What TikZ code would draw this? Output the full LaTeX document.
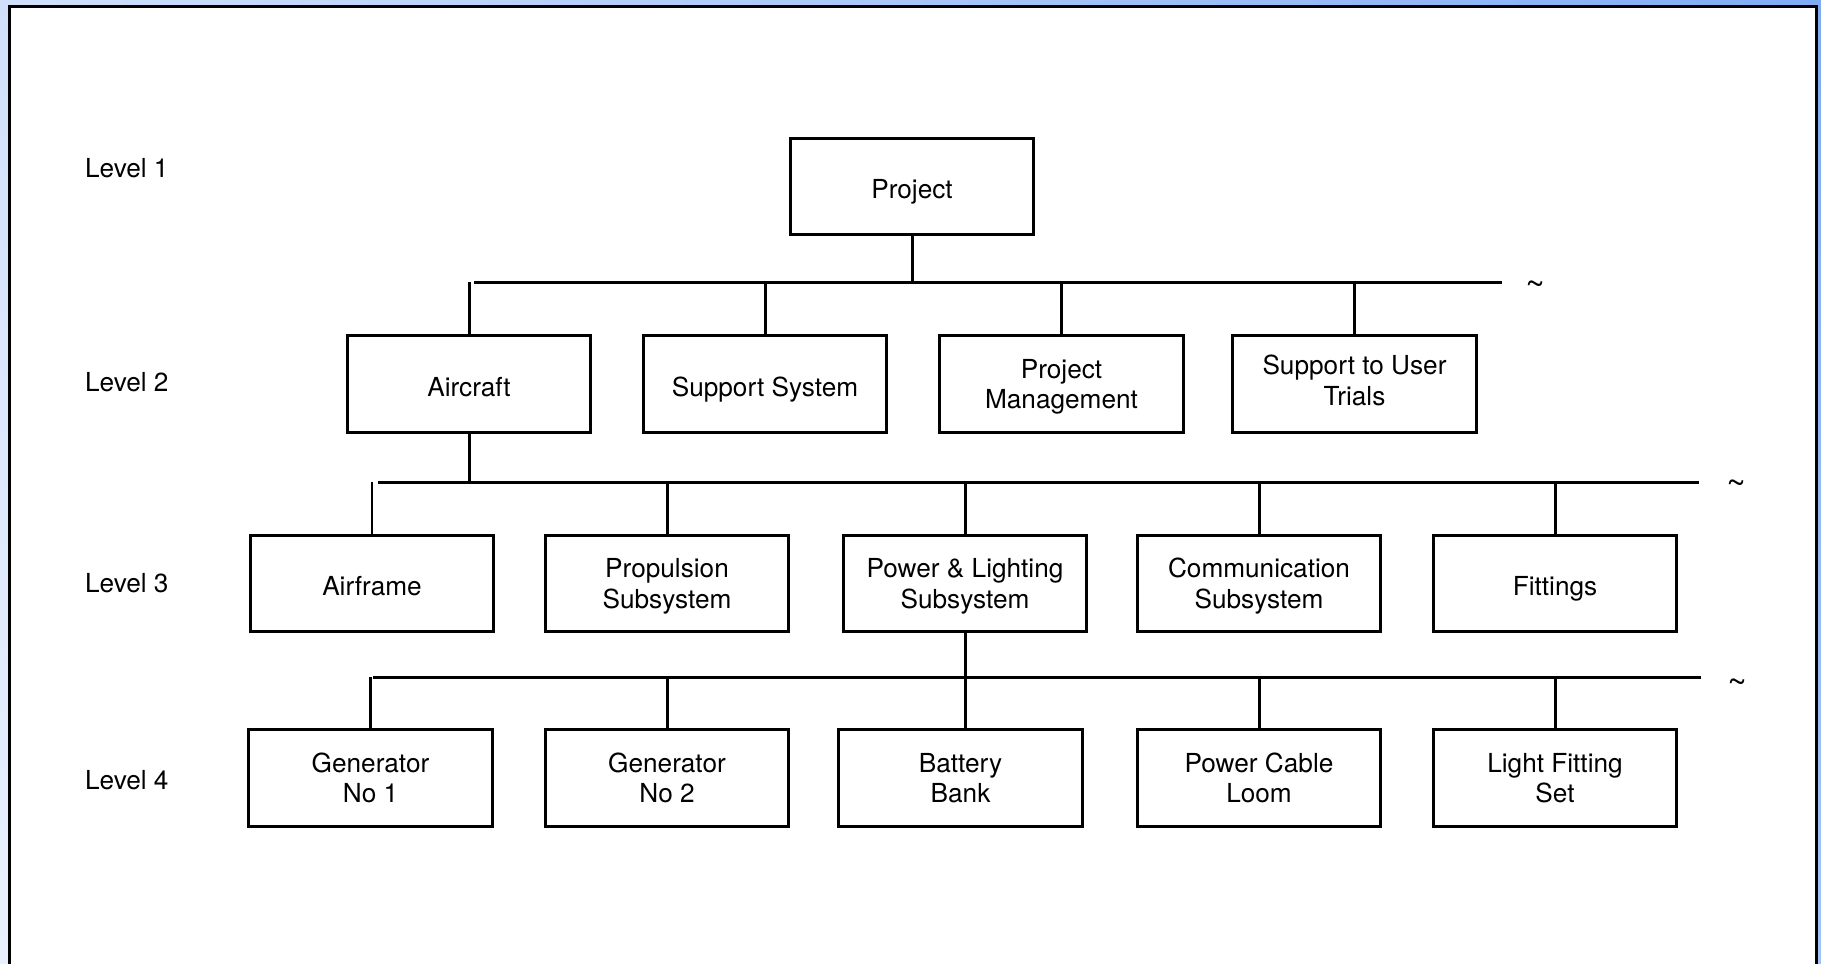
\documentclass[tikz,border=0pt]{standalone}
\usepackage{fontspec}
\setmainfont{TeX Gyre Heros}
\usetikzlibrary{shadings}
\definecolor{bgUL}{RGB}{208,224,251}
\definecolor{bgUR}{RGB}{128,172,245}
\definecolor{bgLL}{RGB}{234,241,253}
\definecolor{bgLR}{RGB}{164,196,246}
\begin{document}
\begin{tikzpicture}[x=0.01cm,y=-0.01cm,
  every node/.style={font=\fontsize{7.45}{8.8}\selectfont, inner sep=0pt, outer sep=0pt},
  box/.style={draw, line width=0.85pt, minimum width=2.43cm, minimum height=0.96cm, align=center},
  one/.style={box, text height=7.1pt, text depth=0pt},
  two/.style={box, text height=14.2pt, text depth=0pt},
  link/.style={line width=0.85pt},
  lvl/.style={anchor=west},
  cut/.style={anchor=center, font=\fontsize{9.5}{10}\selectfont}]
  \useasboundingbox (0,0) rectangle (1821,963);
  % page background and frame
  \shade[upper left=bgUL, upper right=bgUR, lower left=bgLL, lower right=bgLR]
    (0,0) rectangle (1821,963);
  \fill[white] (9.5,6) rectangle (1816.5,975);
  \draw[line width=0.85pt] (9.5,975) -- (9.5,6) -- (1816.5,6) -- (1816.5,975);

  % level labels
  \node[lvl] (l1) at (85,168) {Level 1};
  \node[lvl] (l2) at (85,382) {Level 2};
  \node[lvl] (l3) at (85,583) {Level 3};
  \node[lvl] (l4) at (85,780) {Level 4};

  % level 1
  \node[one] (project) at (912,186.5) {Project};

  % level 2
  \node[one] (aircraft) at (469,384) {Aircraft};
  \node[one] (support) at (765,384) {Support System};
  \node[two] (pm) at (1061.5,384) {Project\\Management};
  \node[two, text depth=2pt] (trials) at (1354.5,384) {Support to User\\Trials};

  % level 3
  \node[one] (airframe) at (372,583.5) {Airframe};
  \node[two] (propulsion) at (667,583.5) {Propulsion\\Subsystem};
  \node[two] (power) at (965,583.5) {Power \& Lighting\\Subsystem};
  \node[two] (comm) at (1259,583.5) {Communication\\Subsystem};
  \node[one] (fittings) at (1555,583.5) {Fittings};

  % level 4
  \node[two] (gen1) at (370.5,778) {Generator\\No 1};
  \node[two] (gen2) at (667,778) {Generator\\No 2};
  \node[two] (battery) at (960.5,778) {Battery\\Bank};
  \node[two] (loom) at (1259,778) {Power Cable\\Loom};
  \node[two] (light) at (1555,778) {Light Fitting\\Set};

  % bus lines
  \coordinate (b1L) at (474,282);
  \coordinate (b1R) at (1502,282);
  \coordinate (b2L) at (378,482);
  \coordinate (b2R) at (1699,482);
  \coordinate (b3L) at (373,677);
  \coordinate (b3R) at (1701,677);
  \draw[link] (b1L) -- (b1R);
  \draw[link] (b2L) -- (b2R);
  \draw[link] (b3L) -- (b3R);

  % continuation marks
  \node[cut] (t1) at (1535,288) {\textasciitilde};
  \node[cut] (t2) at (1736,487) {\textasciitilde};
  \node[cut] (t3) at (1737,686) {\textasciitilde};

  % level 1 to level 2
  \draw[link] (project.south) -- (project.south |- b1L);
  \draw[link] (aircraft.north) -- (aircraft.north |- b1L);
  \draw[link] (support.north) -- (support.north |- b1L);
  \draw[link] (pm.north) -- (pm.north |- b1L);
  \draw[link] (trials.north) -- (trials.north |- b1L);

  % level 2 to level 3
  \draw[link] (aircraft.south) -- (aircraft.south |- b2L);
  \draw[link] (airframe.north) -- (airframe.north |- b2L);
  \draw[link] (propulsion.north) -- (propulsion.north |- b2L);
  \draw[link] (power.north) -- (power.north |- b2L);
  \draw[link] (comm.north) -- (comm.north |- b2L);
  \draw[link] (fittings.north) -- (fittings.north |- b2L);

  % level 3 to level 4
  \draw[link] (power.south) -- (power.south |- battery.north);
  \draw[link] (gen1.north) -- (gen1.north |- b3L);
  \draw[link] (gen2.north) -- (gen2.north |- b3L);
  \draw[link] (loom.north) -- (loom.north |- b3L);
  \draw[link] (light.north) -- (light.north |- b3L);
\end{tikzpicture}
\end{document}
